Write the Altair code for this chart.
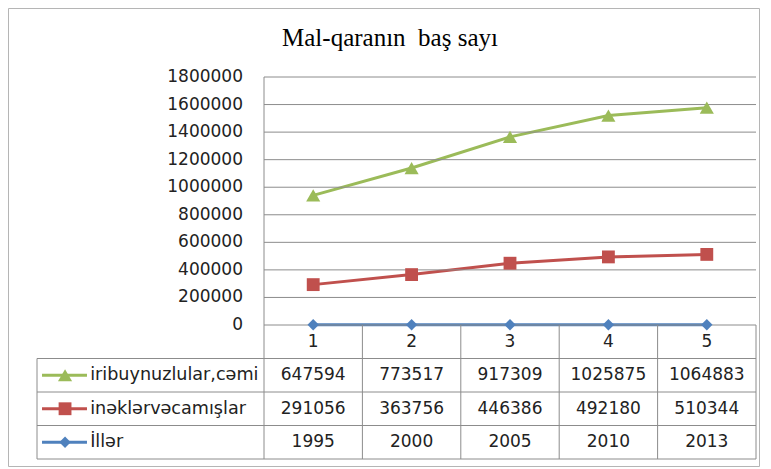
import altair as alt
import pandas as pd

# ---- data ----
categories = [1, 2, 3, 4, 5]
years = [1995, 2000, 2005, 2010, 2013]
cows = [291056, 363756, 446386, 492180, 510344]
cattle = [647594, 773517, 917309, 1025875, 1064883]
series_names = ["iribuynuzlular,cəmi", "inəklərvəcamışlar", "İllər"]
y_ticks = [0, 200000, 400000, 600000, 800000, 1000000, 1200000, 1400000, 1600000, 1800000]
title_text = "Mal-qaranın\u00a0 baş sayı"

colors = ["#9BBB59", "#C0504D", "#4F81BD"]
shapes = ["triangle-up", "square", "diamond"]
sizes = [200, 130, 110]

series_vals = {series_names[2]: years, series_names[1]: cows, series_names[0]: cattle}
stack_order = [series_names[2], series_names[1], series_names[0]]
rows = []
for i, c in enumerate(categories):
    cum = 0
    for s in stack_order:
        cum += series_vals[s][i]
        rows.append({"cat": c, "series": s, "cum": cum})
lines_df = pd.DataFrame(rows)

cells = []
for r, s in enumerate(series_names):
    for i, c in enumerate(categories):
        cells.append({"cat": c, "row": r + 1.5, "txt": str(series_vals[s][i])})
cells_df = pd.DataFrame(cells)
header_df = pd.DataFrame({"cat": categories, "row": [0.5] * 5, "txt": [str(c) for c in categories]})

FONT = "DejaVu Sans"
GRID = "#8C8C8C"
TXT = "#222222"
W, H = 719, 382
PLOT_H = 248
YMAX = 1800000
ROW_UNITS = YMAX * 33.5 / PLOT_H
YMIN = -4 * ROW_UNITS
XMIN = -1.807
XMAX = 5.5
PPU = W / (XMAX - XMIN)             # pixels per x unit
YPU = H / (YMAX - YMIN)             # pixels per y unit
KEY_X0, KEY_XM, KEY_X1, KEY_TX = XMIN + 0.051, XMIN + 0.285, XMIN + 0.508, XMIN + 0.54

legend_df = pd.DataFrame({"series": series_names, "row": [1.5, 2.5, 3.5]})

xscale = alt.Scale(domain=[XMIN, XMAX], range=[0, W], nice=False, zero=False)
yscale = alt.Scale(domain=[YMIN, YMAX], range=[H, 0], nice=False, zero=False)
col = alt.Color("series:N", scale=alt.Scale(domain=series_names, range=colors), legend=None)
shp = alt.Shape("series:N", scale=alt.Scale(domain=series_names, range=shapes), legend=None)
siz = alt.Size("series:N", scale=alt.Scale(domain=series_names, range=sizes), legend=None)

rowcalc = f"-datum.row * {ROW_UNITS}"
ticks_df = pd.DataFrame({"v": y_ticks})

lines = alt.Chart(lines_df).mark_line(strokeWidth=3).encode(
    x=alt.X("cat:Q", scale=xscale, axis=None),
    y=alt.Y("cum:Q", scale=yscale, axis=None),
    color=col,
    detail="series:N",
)
grid = alt.Chart(ticks_df).mark_rule(color=GRID, strokeWidth=1).encode(
    y=alt.Y("v:Q"), x=alt.datum(0.5), x2=alt.datum(XMAX),
)
ylabels = alt.Chart(ticks_df).mark_text(
    align="right", baseline="middle", dx=-21, font=FONT, fontSize=17, color=TXT
).encode(
    y=alt.Y("v:Q"), x=alt.datum(0.5), text=alt.Text("v:Q", format="d"),
)
pts = alt.Chart(lines_df).mark_point(filled=True, opacity=1).encode(
    x=alt.X("cat:Q"), y=alt.Y("cum:Q"), color=col, shape=shp, size=siz,
)

vb_df = pd.DataFrame({"b": [0.5, 1.5, 2.5, 3.5, 4.5, 5.5], "top": [0.0, -1, -1, -1, -1, -1]})
vlines = alt.Chart(vb_df).transform_calculate(
    ya=f"datum.top < 0 ? 0 : {YMAX}", yb=f"{YMIN}"
).mark_rule(color=GRID, strokeWidth=1).encode(
    x=alt.X("b:Q"), y=alt.Y("ya:Q"), y2=alt.Y2("yb"),
)
left_edge = alt.Chart(ticks_df.head(1)).mark_rule(color=GRID, strokeWidth=1).encode(
    x=alt.datum(XMIN), y=alt.datum(-ROW_UNITS), y2=alt.datum(YMIN),
)
hb_df = pd.DataFrame({"row": [1, 2, 3, 4]})
hlines = alt.Chart(hb_df).transform_calculate(yr=rowcalc).mark_rule(color=GRID, strokeWidth=1).encode(
    y=alt.Y("yr:Q"), x=alt.datum(XMIN), x2=alt.datum(XMAX),
)
txt_kw = dict(align="center", baseline="middle", font=FONT, fontSize=17, color=TXT)
header = alt.Chart(header_df).transform_calculate(yr=rowcalc).mark_text(**txt_kw).encode(
    x=alt.X("cat:Q"), y=alt.Y("yr:Q"), text="txt:N",
)
cell_txt = alt.Chart(cells_df).transform_calculate(yr=rowcalc).mark_text(**txt_kw).encode(
    x=alt.X("cat:Q"), y=alt.Y("yr:Q"), text="txt:N",
)
key_line = alt.Chart(legend_df).transform_calculate(yr=rowcalc).mark_rule(strokeWidth=3).encode(
    x=alt.datum(KEY_X0), x2=alt.datum(KEY_X1), y=alt.Y("yr:Q"), color=col,
)
key_pt = alt.Chart(legend_df).transform_calculate(yr=rowcalc).mark_point(filled=True, opacity=1).encode(
    x=alt.datum(KEY_XM), y=alt.Y("yr:Q"), color=col, shape=shp, size=siz,
)
key_txt = alt.Chart(legend_df).transform_calculate(yr=rowcalc).mark_text(
    align="left", baseline="middle", font=FONT, fontSize=17.6, color=TXT
).encode(
    x=alt.datum(KEY_TX), y=alt.Y("yr:Q"), text="series:N",
)

# light outer chart-area border (Excel chart frame), drawn with rules
FX0, FX1 = XMIN - 28.5 / PPU, XMAX + 3.5 / PPU
FY0, FY1 = YMAX + 68.5 / YPU, YMIN - 7.5 / YPU
frame_df = pd.DataFrame({
    "xa": [FX0, FX0, FX0, FX1], "xb": [FX1, FX1, FX0, FX1],
    "ya": [FY0, FY1, FY0, FY0], "yb": [FY0, FY1, FY1, FY1],
})
frame = alt.Chart(frame_df).mark_rule(color="#B5B5B5", strokeWidth=1).encode(
    x=alt.X("xa:Q"), x2=alt.X2("xb"), y=alt.Y("ya:Q"), y2=alt.Y2("yb"),
)

# chart title (drawn as a text mark above the plot area)
title_df = pd.DataFrame({"t": [title_text]})
title = alt.Chart(title_df).mark_text(
    font="Liberation Serif", fontSize=25, color="#000000", align="center", baseline="alphabetic"
).encode(
    x=alt.datum(XMIN + 353 / PPU), y=alt.datum(YMAX + 31 / YPU), text="t:N",
)

chart = alt.layer(
    lines, grid, vlines, left_edge, hlines, pts, ylabels,
    header, cell_txt, key_line, key_pt, key_txt, frame, title,
).properties(
    width=W,
    height=H,
    autosize=alt.AutoSizeParams(type="none"),
    padding={"left": 29, "top": 69, "right": 5, "bottom": 8},
).configure_view(stroke=None)

chart.save("out.html", embed_options={"renderer": "svg", "actions": False})
